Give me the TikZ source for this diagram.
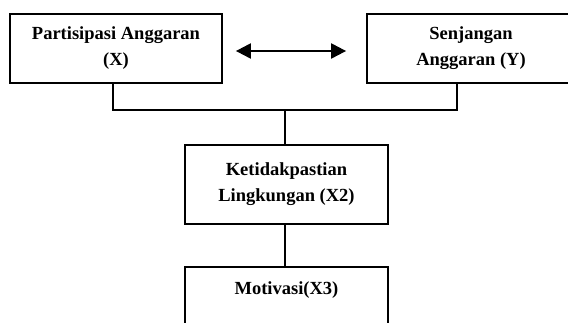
\documentclass[tikz,border=0pt]{standalone}
\usepackage{fontspec}
\setmainfont{Liberation Serif}
\usetikzlibrary{arrows.meta}
\begin{document}
\begin{tikzpicture}[x=1pt,y=-1pt,
  box/.style={draw, line width=1.8pt, align=center, inner sep=0pt,
    font=\fontsize{18.5}{26}\selectfont\bfseries},
  conn/.style={line width=1.8pt},
  dblarrow/.style={line width=2.2pt, {Triangle[length=15pt,width=15pt]}-{Triangle[length=15pt,width=15pt]}}]
\useasboundingbox (0,0) rectangle (568,323);
\clip (0,0) rectangle (568,323);
\fill[white] (0,0) rectangle (568,323);
\node[box, minimum width=212pt, minimum height=69pt] (px) at (116,48.5) {Partisipasi Anggaran\\(X)};
\node[box, minimum width=208pt, minimum height=69pt] (sa) at (471,48.5) {Senjangan\\Anggaran (Y)};
\node[box, minimum width=203pt, minimum height=79pt] (kl) at (286.5,184.5) {Ketidakpastian\\Lingkungan (X2)};
\node[box, anchor=north, minimum width=203pt, text height=28pt, text depth=52pt] (mo) at (286.5,266) {Motivasi(X3)};
\coordinate (j) at (285,110);
\draw[conn] ([xshift=-3pt]px.south) |- (j) -| ([xshift=-14pt]sa.south);
\draw[conn] (j) -- (j |- kl.north);
\draw[conn] (kl.south -| j) -- (mo.north -| j);
\draw[dblarrow, shorten <=13pt, shorten >=20pt] ([yshift=-2.5pt]px.east) -- ([yshift=-2.5pt]sa.west);
\end{tikzpicture}
\end{document}
